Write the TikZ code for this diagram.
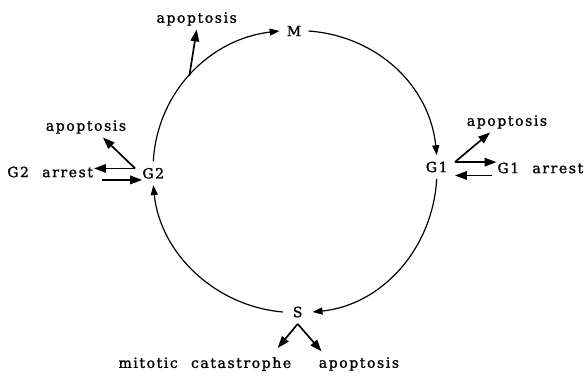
\documentclass[tikz,border=0pt]{standalone}
\usepackage{fontspec}
\setmainfont{DejaVu Serif}[LetterSpace=11, WordSpace=2.2, FakeBold=1.3]
\usetikzlibrary{arrows.meta}

\begin{document}
\begin{tikzpicture}[
  x=0.025cm, y=0.025cm,
  font=\fontsize{10}{12}\selectfont,
  phase/.style={inner xsep=5pt, inner ysep=4.5pt},
  lbl/.style={inner sep=2.5pt},
  arrestlbl/.style={inner sep=0.5pt},
  cyc/.style={-{Triangle[length=7pt, width=5pt]}, line width=0.85pt},
  branch/.style={-{Triangle[length=8.5pt, width=6pt]}, line width=1.2pt},
]
\useasboundingbox (0,0) rectangle (586,377);

% --- phases of the cycle ---
\node[phase] (M)  at (294,346)     {M};
\node[phase] (G1) at (436.7,210)   {G1};
\node[phase, inner xsep=7pt] (S) at (297.7,65) {S};
\node[phase] (G2) at (153.3,203.7) {G2};

% --- outcomes ---
\node[lbl] (apoM)  at (196.7,358) {apoptosis};
\node[lbl] (apoG2) at (86,250)    {apoptosis};
\node[lbl] (apoG1) at (507,255)   {apoptosis};
\node[arrestlbl, anchor=east] (arrestG2) at (94,205) {G2 arrest};
\node[arrestlbl, anchor=west] (arrestG1) at (496.5,209) {G1 arrest};
\node[lbl, anchor=east] (mitotic) at (295,13) {mitotic catastrophe};
\node[lbl, anchor=west] (apoS)    at (315,13) {apoptosis};

% --- the cycle ---
\draw[cyc] (G2.north) .. controls +(4,70) and +(-69,-8) .. (M.west)
  coordinate[pos=0.48] (mBranch);
\draw[cyc] (M.east) .. controls +(69,-5) and +(-7,69) .. (G1.north);
\draw[cyc] (G1.south) .. controls +(-4,-70) and +(69,7) .. (S.east);
\draw[cyc] (S.west) .. controls +(-68,6) and +(7,-68) .. (G2.south);

% --- M ---
\draw[branch] (mBranch) -- (apoM.south);

% --- G2 ---
\draw[branch] (G2.165) -- ([xshift=12pt]apoG2.south);
\draw[branch] (G2.165) -- (G2.165 -| arrestG2.east);
\draw[branch, shorten <=5.5pt, shorten >=-5pt] (arrestG2.east |- G2.200) -- (G2.200);

% --- G1 ---
\draw[branch] (G1.15) -- ([xshift=-12pt]apoG1.south);
\draw[branch] (G1.15) -- (G1.15 -| arrestG1.west);
\draw[branch, shorten <=3pt] (arrestG1.west |- G1.-25) -- (G1.-25);

% --- S ---
\draw[branch, shorten >=5pt] (S.south) -- ([xshift=-15.5pt]mitotic.north east);
\draw[branch, shorten >=2pt] (S.south) -- ([xshift=6pt]apoS.north west);

\end{tikzpicture}
\end{document}
